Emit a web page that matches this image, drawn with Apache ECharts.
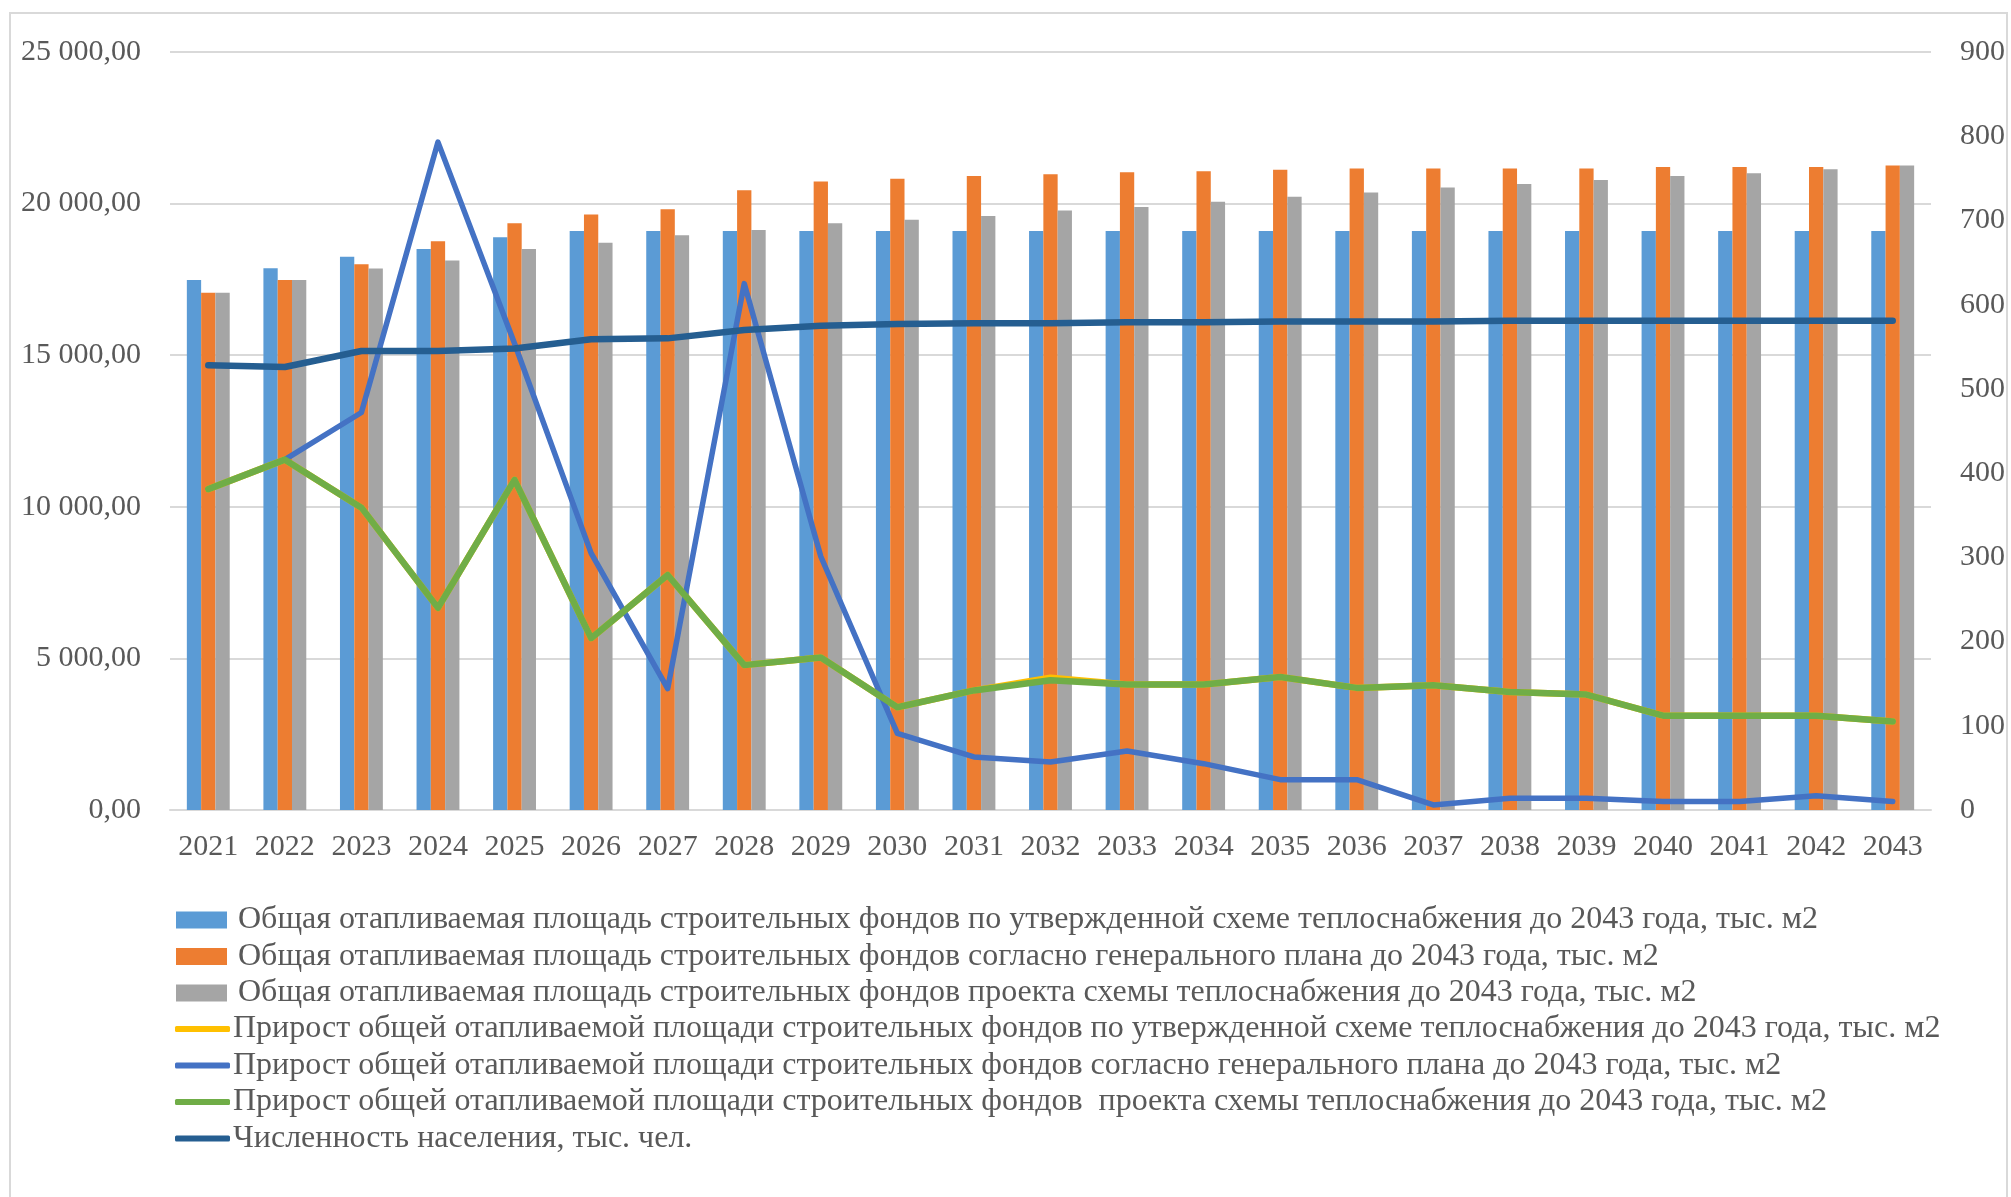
<!DOCTYPE html>
<html>
<head>
<meta charset="utf-8">
<script src="https://cdn.jsdelivr.net/npm/echarts@6/dist/echarts.min.js"></script>
<style>
html,body{margin:0;padding:0;background:#fff;}
#chart{width:2011px;height:1197px;}
</style>
</head>
<body>
<div id="chart"></div>
<script>
const years = ['2021','2022','2023','2024','2025','2026','2027','2028','2029','2030','2031','2032','2033','2034','2035','2036','2037','2038','2039','2040','2041','2042','2043'];

const areaApproved = [17480,17870,18250,18500,18890,19100,19100,19100,19100,19100,19100,19100,19100,19100,19100,19100,19100,19100,19100,19100,19100,19100,19100];
const areaGeneralPlan = [17060,17480,18000,18760,19350,19640,19810,20440,20730,20820,20910,20970,21030,21070,21120,21160,21160,21160,21160,21210,21210,21210,21260];
const areaProject = [17060,17480,17860,18120,18500,18710,18960,19130,19350,19470,19590,19770,19890,20060,20230,20370,20530,20650,20780,20910,21000,21130,21260];

const growthApproved = [381,416,359,240,392,204,279,172,181,122,142,157,149,149,158,145,148,140,137,112,112,112,105];
const growthGeneralPlan = [null,416,472,793,554,305,144,625,301,91,63,57,70,55,36,36,6,14,14,10,10,17,10];
const growthProject = [381,416,359,240,392,204,279,172,181,122,142,154,149,149,158,145,148,140,137,112,112,112,105];
const population = [528,526,545,545,548,559,560,570,575,577,578,578,579,579,580,580,580,581,581,581,581,581,581];

const leftTicks = [0,5000,10000,15000,20000,25000];
const rightTicks = [0,100,200,300,400,500,600,700,800,900];

const names = [
  'Общая отапливаемая площадь строительных фондов по утвержденной схеме теплоснабжения до 2043 года, тыс. м2',
  'Общая отапливаемая площадь строительных фондов согласно генерального плана до 2043 года, тыс. м2',
  'Общая отапливаемая площадь строительных фондов проекта схемы теплоснабжения до 2043 года, тыс. м2',
  'Прирост общей отапливаемой площади строительных фондов по утвержденной схеме теплоснабжения до 2043 года, тыс. м2',
  'Прирост общей отапливаемой площади строительных фондов согласно генерального плана до 2043 года, тыс. м2',
  'Прирост общей отапливаемой площади строительных фондов  проекта схемы теплоснабжения до 2043 года, тыс. м2',
  'Численность населения, тыс. чел.'
];

const FONT = '"Liberation Serif", "Times New Roman", serif';
const TXT = '#595959';

function fmtLeft(v){
  const parts = v.toFixed(2).split('.');
  const int = parts[0].replace(/\B(?=(\d{3})+(?!\d))/g, ' ');
  return int + ',' + parts[1];
}

const chart = echarts.init(document.getElementById('chart'), null, {renderer:'canvas'});
const option = {
  backgroundColor: '#ffffff',
  animation: false,
  graphic: [{
    type: 'rect', silent: true, z: -10,
    shape: {x: 10, y: 13, width: 1997, height: 1200},
    style: {fill: 'none', stroke: '#D9D9D9', lineWidth: 2}
  }],
  grid: {left: 170, right: 80, top: 52, bottom: 387, containLabel: false},
  legend: [{
    data: names.slice(0,3),
    orient: 'vertical', left: 171, top: 899,
    itemWidth: 51, itemHeight: 17, itemGap: 4.5, icon: 'rect',
    textStyle: {fontFamily: FONT, fontSize: 32, color: TXT, lineHeight: 30, padding: [0,0,0,6]}
  },{
    data: names.slice(3),
    orient: 'vertical', left: 170, top: 1008,
    itemWidth: 55, itemHeight: 6, itemGap: 4.5, icon: 'roundRect',
    textStyle: {fontFamily: FONT, fontSize: 32, color: TXT, lineHeight: 30, padding: [0,0,0,-2]}
  }],
  xAxis: {
    type: 'category', data: years,
    axisLine: {lineStyle: {color: '#D9D9D9', width: 2}},
    axisTick: {show: false},
    axisLabel: {fontFamily: FONT, fontSize: 30, color: TXT, margin: 22, interval: 0}
  },
  yAxis: [{
    type: 'value', min: leftTicks[0], max: leftTicks[leftTicks.length-1], interval: 5000,
    axisLine: {show: false}, axisTick: {show: false},
    splitLine: {lineStyle: {color: '#D9D9D9', width: 2}},
    axisLabel: {fontFamily: FONT, fontSize: 30, color: TXT, margin: 29, formatter: fmtLeft}
  },{
    type: 'value', min: rightTicks[0], max: rightTicks[rightTicks.length-1], interval: 100,
    axisLine: {show: false}, axisTick: {show: false},
    splitLine: {show: false},
    axisLabel: {fontFamily: FONT, fontSize: 30, color: TXT, margin: 29}
  }],
  series: [
    {name: names[0], type: 'bar', data: areaApproved, itemStyle: {color: '#5B9BD5'}, barGap: '0%', barCategoryGap: '44%'},
    {name: names[1], type: 'bar', data: areaGeneralPlan, itemStyle: {color: '#ED7D31'}, barGap: '0%', barCategoryGap: '44%'},
    {name: names[2], type: 'bar', data: areaProject, itemStyle: {color: '#A5A5A5'}, barGap: '0%', barCategoryGap: '44%'},
    {name: names[3], type: 'line', yAxisIndex: 1, data: growthApproved, symbol: 'none', itemStyle: {color: '#FFC000'}, lineStyle: {color: '#FFC000', width: 6.5, cap: 'round', join: 'round'}},
    {name: names[4], type: 'line', yAxisIndex: 1, data: growthGeneralPlan, symbol: 'none', itemStyle: {color: '#4472C4'}, lineStyle: {color: '#4472C4', width: 5.5, cap: 'round', join: 'round'}},
    {name: names[5], type: 'line', yAxisIndex: 1, data: growthProject, symbol: 'none', itemStyle: {color: '#70AD47'}, lineStyle: {color: '#70AD47', width: 6.5, cap: 'round', join: 'round'}},
    {name: names[6], type: 'line', yAxisIndex: 1, data: population, symbol: 'none', itemStyle: {color: '#255E91'}, lineStyle: {color: '#255E91', width: 6.5, cap: 'round', join: 'round'}}
  ]
};
chart.setOption(option);
</script>
</body>
</html>
